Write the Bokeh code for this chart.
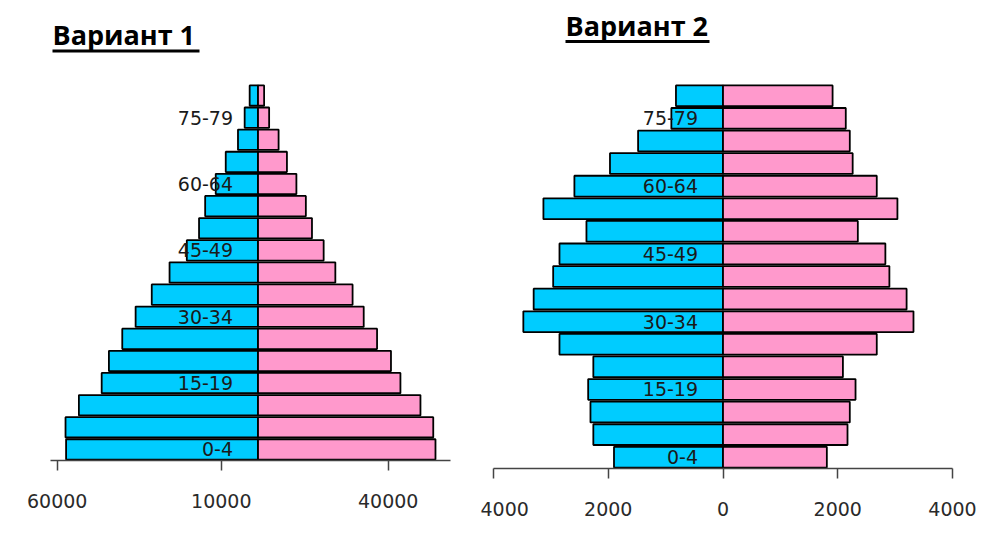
from bokeh.plotting import figure
from bokeh.layouts import row, column
from bokeh.models import Label, BoxAnnotation, FixedTicker, ColumnDataSource
from bokeh.core.properties import value
from bokeh.embed import file_html
from bokeh.resources import INLINE

# ---------------- data ----------------
age_groups = ["0-4", "5-9", "10-14", "15-19", "20-24", "25-29", "30-34", "35-39",
              "40-44", "45-49", "50-54", "55-59", "60-64", "65-69", "70-74", "75-79", "80+"]

# Variant 1 (left pyramid)
male_v1 = [34500, 34600, 32200, 28100, 26800, 24400, 22000, 19100,
           15900, 12800, 10600, 9500, 7600, 5800, 3600, 2400, 1500]
female_v1 = [31900, 31500, 29200, 25600, 23900, 21400, 19000, 17000,
             13900, 11800, 9700, 8600, 6900, 5200, 3700, 2000, 1100]
ticks_v1 = [-36100, -6600, 23400]
tick_labels_v1 = ["60000", "10000", "40000"]

# Variant 2 (right pyramid)
male_v2 = [1900, 2260, 2310, 2350, 2260, 2850, 3480, 3300,
           2960, 2850, 2380, 3130, 2590, 1970, 1480, 900, 820]
female_v2 = [1810, 2170, 2210, 2310, 2090, 2680, 3320, 3200,
             2900, 2830, 2350, 3040, 2680, 2260, 2210, 2140, 1910]
ticks_v2 = [-4000, -2000, 0, 2000, 4000]
tick_labels_v2 = ["4000", "2000", "0", "2000", "4000"]

titles = ["Вариант 1", "Вариант 2"]

BLUE = "#00CCFF"
PINK = "#FF99CC"
FONT = "DejaVu Sans"


def pyramid(male, female, ticks, tick_labels, x_range, width, height,
            b_left, b_right, b_bottom, bars_top, title, title_x, title_base, ul_y, ul_w):
    n = len(age_groups)
    frame_h = height - b_bottom
    bars_h = frame_h - bars_top
    y_top = n * frame_h / bars_h
    ys = [i + 0.5 for i in range(n)]
    src = ColumnDataSource(dict(
        y=ys,
        mleft=[-m for m in male],
        fright=female,
        zero=[0] * n,
    ))
    p = figure(width=width, height=height, x_range=x_range, y_range=(0, y_top),
               output_backend="svg", toolbar_location=None, y_axis_location=None,
               min_border_left=b_left, min_border_right=b_right,
               min_border_top=0, min_border_bottom=b_bottom)
    p.outline_line_color = None
    p.grid.visible = False
    p.background_fill_color = "white"
    p.border_fill_color = "white"

    p.hbar(y="y", left="mleft", right="zero", height=0.92, source=src,
           fill_color=BLUE, line_color="black", line_width=1.8)
    p.hbar(y="y", left="zero", right="fright", height=0.92, source=src,
           fill_color=PINK, line_color="black", line_width=1.8)

    lab_y = ys[::3]
    lab_t = age_groups[::3]
    p.text(x=[0] * len(lab_y), y=lab_y, text=lab_t, x_offset=-25,
           text_align="right", text_baseline="middle",
           text_font=value(FONT), text_font_size="19px", text_color="#1a1a1a")

    ax = p.xaxis[0]
    ax.ticker = FixedTicker(ticks=ticks)
    ax.major_label_overrides = {t: l for t, l in zip(ticks, tick_labels)}
    ax.minor_tick_line_color = None
    ax.major_tick_in = 0
    ax.major_tick_out = 10
    ax.major_tick_line_color = "#444444"
    ax.major_tick_line_width = 1.5
    ax.axis_line_color = "#444444"
    ax.axis_line_width = 1.5
    ax.major_label_text_font = FONT
    ax.major_label_text_font_size = "19px"
    ax.major_label_text_color = "#2a2a2a"
    ax.major_label_standoff = 23

    p.add_layout(Label(x=title_x, y=frame_h - title_base + 12,
                       x_units="screen", y_units="screen", text=title,
                       text_font="Open Sans", text_font_style="bold",
                       text_font_size="27px", text_color="black",
                       text_baseline="alphabetic", text_align="left"))
    p.add_layout(BoxAnnotation(left=title_x, right=title_x + ul_w,
                               bottom=frame_h - ul_y - 1.5,
                               top=frame_h - ul_y + 1.5,
                               left_units="screen", right_units="screen",
                               top_units="screen", bottom_units="screen",
                               fill_color="black", fill_alpha=1.0, line_color=None))
    return p


p1 = pyramid(male_v1, female_v1, ticks_v1, tick_labels_v1, (-37300, 34600),
             480, 542, 50, 30, 82, 84, titles[0], 2, 46, 50.5, 147)
p2 = pyramid(male_v2, female_v2, ticks_v2, tick_labels_v2, (-4000, 4000),
             520, 542, 13, 48, 74, 84, titles[1], 565 - 493, 37, 41, 144)

layout = row(column(p1), column(p2))
layout.spacing = 0
p = layout
open("out.html", "w").write(file_html(p, INLINE))
